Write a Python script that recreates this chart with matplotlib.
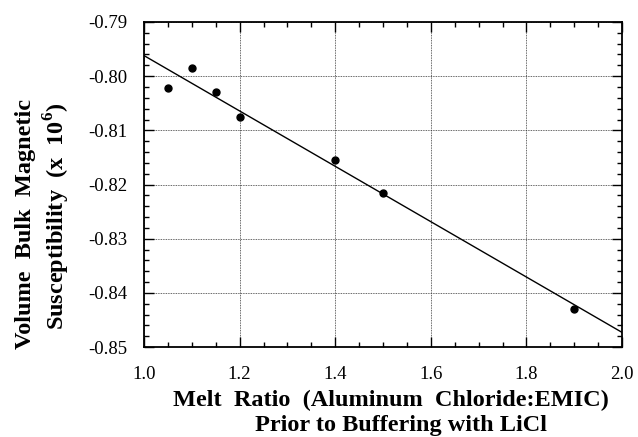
import matplotlib
matplotlib.use("Agg")
import matplotlib.pyplot as plt
from matplotlib.ticker import MultipleLocator

plt.rcParams["font.family"] = ["Liberation Serif", "DejaVu Serif"]
plt.rcParams["mathtext.fontset"] = "custom"
plt.rcParams["mathtext.rm"] = "Liberation Serif"
plt.rcParams["mathtext.bf"] = "Liberation Serif:bold"

# measured points (melt ratio vs volume susceptibility x 1e6)
ratio = [1.05, 1.10, 1.15, 1.20, 1.40, 1.50, 1.90]
chi = [-0.8021, -0.7984, -0.8030, -0.8076, -0.8155, -0.8216, -0.8430]

# straight-line fit as drawn in the figure
fit_x = [1.0, 2.0]
fit_y = [-0.7962, -0.8473]

XTICKS = [1.0, 1.2, 1.4, 1.6, 1.8, 2.0]
XLABELS = ["1.0", "1.2", "1.4", "1.6", "1.8", "2.0"]
YTICKS = [-0.85, -0.84, -0.83, -0.82, -0.81, -0.80, -0.79]
YLABELS = ["-0.85", "-0.84", "-0.83", "-0.82", "-0.81", "-0.80", "-0.79"]

fig = plt.figure(figsize=(6.38, 4.37), dpi=100)
ax = fig.add_axes([144 / 638, 1 - 347 / 437, 478 / 638, 325 / 437])

ax.plot(fit_x, fit_y, color="black", lw=1.0, zorder=3)
ax.plot(ratio, chi, "o", color="black", ms=5, zorder=4)

ax.set_xlim(1.0, 2.0)
ax.set_ylim(-0.85, -0.79)
ax.set_xticks(XTICKS)
ax.set_xticklabels(XLABELS)
ax.set_yticks(YTICKS)
ax.set_yticklabels(YLABELS)
ax.xaxis.set_minor_locator(MultipleLocator(0.05))
ax.yaxis.set_minor_locator(MultipleLocator(0.002))
ax.tick_params(which="both", direction="in", top=True, right=True,
               labelsize=13.5, width=1.0)
ax.tick_params(which="major", length=7)
ax.tick_params(which="minor", length=3.5)
ax.tick_params(axis="x", which="major", pad=14)
ax.tick_params(axis="y", which="major", pad=12)
ax.grid(True, which="major", linestyle=(0, (1, 1)), color="#333333", lw=0.6)
for s in ax.spines.values():
    s.set_linewidth(1.3)

fig.text(391 / 638, 1 - 400 / 437, "Melt  Ratio  (Aluminum  Chloride:EMIC)",
         ha="center", va="center", fontsize=17.5, fontweight="bold")
fig.text(401 / 638, 1 - 425 / 437, "Prior to Buffering with LiCl",
         ha="center", va="center", fontsize=17.5, fontweight="bold")
fig.text(25 / 638, 1 - 224 / 437, "Volume  Bulk  Magnetic",
         ha="center", va="center", rotation=90, fontsize=17.5, fontweight="bold")
fig.text(57 / 638, 1 - 216 / 437, r"Susceptibility  (x  10$^{\mathbf{6}}$)",
         ha="center", va="center", rotation=90, fontsize=17.5, fontweight="bold")

fig.savefig("out.png", dpi=100)
